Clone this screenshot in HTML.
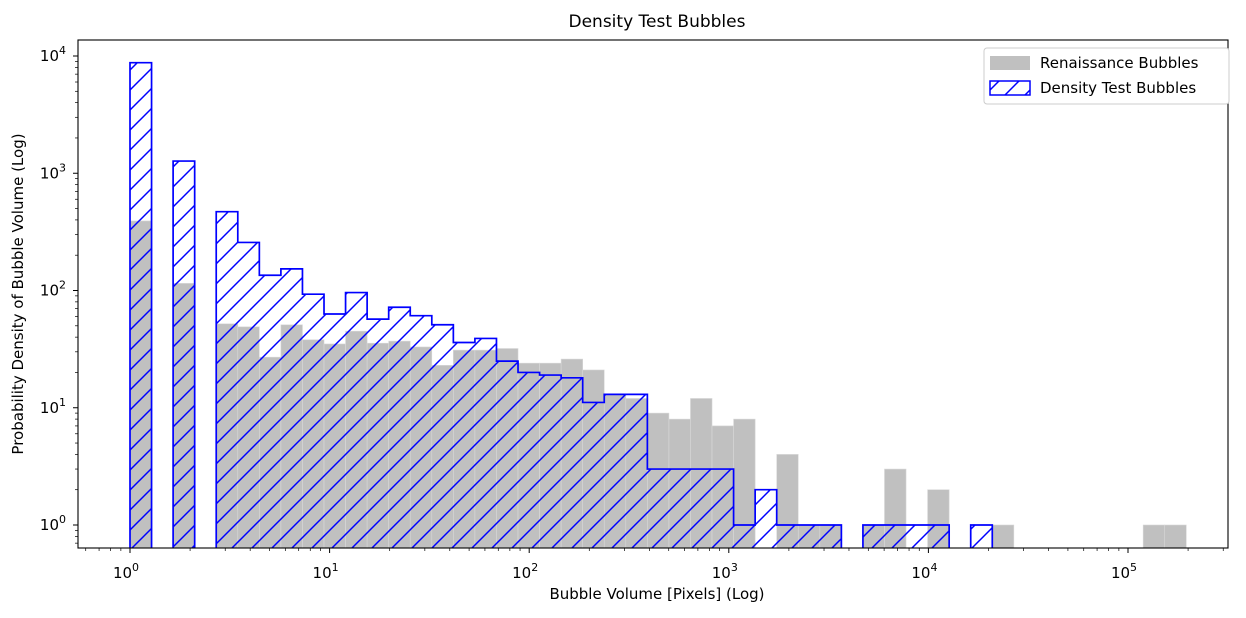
<!DOCTYPE html>
<html><head><meta charset="utf-8"><style>
body{margin:0;background:#fff;}
svg text{font-family:"DejaVu Sans","Liberation Sans",sans-serif;fill:#000;}
</style></head><body>
<svg id="chart" width="1246" height="613" xmlns="http://www.w3.org/2000/svg">
<defs>
<pattern id="hatch" patternUnits="userSpaceOnUse" width="20" height="20">
<path d="M-5,5 L5,-5 M0,20 L20,0 M15,25 L25,15" stroke="#0000ff" stroke-width="1.5"/>
</pattern>
<clipPath id="plotclip"><rect x="78" y="40" width="1150" height="508"/></clipPath>
</defs>
<text x="657" y="27" font-size="17" text-anchor="middle">Density Test Bubbles</text>
<g id="plot" clip-path="url(#plotclip)"></g>
<g id="axes"></g>
<rect x="78" y="40" width="1150" height="508" fill="none" stroke="#000" stroke-width="1.1"/>
<text x="657" y="599" font-size="15" text-anchor="middle">Bubble Volume [Pixels] (Log)</text>
<text transform="translate(23,294) rotate(-90)" font-size="15" text-anchor="middle">Probability Density of Bubble Volume (Log)</text>
<g>
<rect x="984" y="48" width="245" height="56" rx="3" fill="#fff" stroke="#ccc"/>
<rect x="990" y="56" width="40" height="14" fill="#c0c0c0"/>
<text x="1040" y="68" font-size="15">Renaissance Bubbles</text>
<rect x="990" y="81" width="40" height="14" fill="url(#hatch)" stroke="#0000ff" stroke-width="1.5"/>
<text x="1040" y="93" font-size="15">Density Test Bubbles</text>
</g>
</svg>
<script>
const renaissanceCounts = [392,0,115,0,52,49,27,51,38,35,45,35.5,37,33,23,31,31,32,24,24,26,21,13,12,9,8,12,7,8,0,4,1,1,0,1,3,0,2,0,0,1,0,0,0,0,0,0,1,1];
const densityCounts = [8770,0,1270,0,470,257,135,153,93,63,96,57,72,61,51,36,39,25,20,19,18,11.1,13,13,3,3,3,3,1,2,1,1,1,0,1,1,1,1,0,1,0,0,0,0,0,0,0,0,0];
const binWidthDecades = [0.108];
const xTickExps = [0,1,2,3,4,5];
const yTickExps = [0,1,2,3,4];

const NS="http://www.w3.org/2000/svg";
const X0=130, XPD=199.6, Y0=525, YPD=117.25, BOTTOM=548;
function xs(logv){return X0+logv*XPD;}
function ys(v){return v<=0?BOTTOM+5:Y0-Math.log10(v)*YPD;}
function mk(tag,attrs,parent){const e=document.createElementNS(NS,tag);for(const k in attrs)e.setAttribute(k,attrs[k]);parent.appendChild(e);return e;}
const plot=document.getElementById('plot'), axes=document.getElementById('axes');
const bw=binWidthDecades[0];
renaissanceCounts.forEach((c,i)=>{
  if(c<=0)return;
  const x1=xs(i*bw), x2=xs((i+1)*bw);
  const r=mk('rect',{x:x1,y:ys(c),width:x2-x1,height:BOTTOM+5-ys(c),fill:'#c0c0c0',stroke:'#d8d8d8','stroke-width':0.6},plot);
  
  
});
let d='M'+xs(0)+','+(BOTTOM+5);
densityCounts.forEach((c,i)=>{
  const x1=xs(i*bw), x2=xs((i+1)*bw), y=ys(c);
  d+=' L'+x1+','+y+' L'+x2+','+y;
});
d+=' L'+xs(densityCounts.length*bw)+','+(BOTTOM+5)+' Z';
const p=mk('path',{d:d,fill:'url(#hatch)',stroke:'#0000ff','stroke-width':1.7,'stroke-linejoin':'miter'},plot);


for(let e=-1;e<=5;e++){
  for(let m=1;m<10;m++){
    const lv=e+Math.log10(m);const x=xs(lv);
    if(x<78||x>1228)continue;
    const t=mk('line',{x1:x,x2:x,y1:BOTTOM,y2:BOTTOM+(m===1?5:3),stroke:'#000','stroke-width':m===1?1:0.7},axes);
    
    
  }
}
xTickExps.forEach(e=>{
  const t=mk('text',{x:xs(e)-4,y:578,'font-size':15,'text-anchor':'middle'},axes);
  
  
  t.innerHTML='10<tspan dy="-7" font-size="11">'+e+'</tspan>';
});
for(let e=-1;e<=4;e++){
  for(let m=1;m<10;m++){
    const y=Y0-(e+Math.log10(m))*YPD;
    if(y<40||y>548)continue;
    const t=mk('line',{x1:78,x2:78-(m===1?5:3),y1:y,y2:y,stroke:'#000','stroke-width':m===1?1:0.7},axes);
    
    
  }
}
yTickExps.forEach(e=>{
  const y=Y0-e*YPD;
  const t=mk('text',{x:66,y:y+5,'font-size':15,'text-anchor':'end'},axes);
  
  
  t.innerHTML='10<tspan dy="-7" font-size="11">'+e+'</tspan>';
});
</script>
</body></html>
